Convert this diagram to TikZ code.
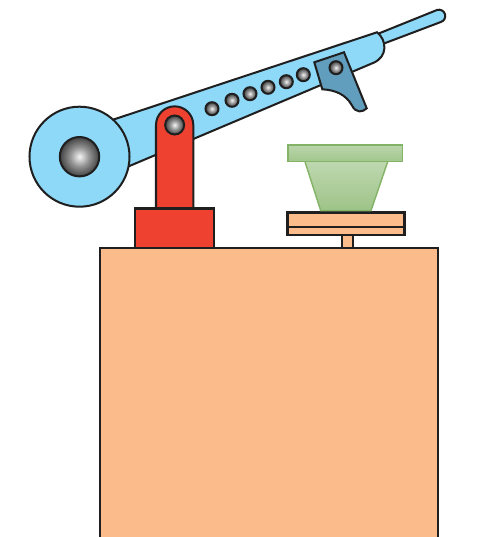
\documentclass[tikz,border=0pt]{standalone}
\usepackage{xcolor}
\usetikzlibrary{math}
\definecolor{armblue}{HTML}{8ED8F8}
\definecolor{pawlblue}{HTML}{619DBC}
\definecolor{postred}{HTML}{EF4130}
\definecolor{boxorange}{HTML}{FBBB8A}
\definecolor{potedge}{HTML}{82B366}
\pgfdeclareradialshading{pinshade}{\pgfpoint{0bp}{0bp}}{color(0bp)=(white!92!gray); color(12bp)=(black!42); color(25bp)=(black!74); color(50bp)=(black!74)}
\tikzset{
part/.style={draw=black!88, line width=1.15pt, line join=miter},
pin/.style={part, shading=pinshade},
pot/.style={draw=potedge, line width=0.8pt},
}

\begin{document}
\begin{tikzpicture}[x=0.02cm,y=-0.02cm]
\tikzmath{
\rpin=6.5;
\tabletop=248;
}
\clip (0,0) rectangle (491,537);

% handle and arm
\draw[part,fill=armblue] (375,35) -- (437,10) arc[start angle=-108,end angle=72,radius=6.3] -- (380,45) -- cycle;
\draw[part,fill=armblue] (100,124) -- (377,32.3) .. controls (387,40) and (388,57) .. (373,63) -- (120,170) -- cycle;

% wheel
\draw[part,fill=armblue] (79.5,156.7) circle[radius=50];
\draw[pin] (79.5,156.7) circle[radius=19.7];

% row of holes
\foreach \xp/\yp in {212/108.7,232/100.3,250/93.7,268/87.3,286.3/81.7,303.3/74.7}{
\draw[pin] (\xp,\yp) circle[radius=\rpin];
}

% pawl
\draw[part,fill=pawlblue] (314.3,62.3) -- (344,52.3) -- (366.7,108.3)
.. controls (363,112) and (356,114) .. (351.7,105)
.. controls (346,95) and (336,90) .. (322.3,89.3) -- cycle;
\draw[pin] (336,67.7) circle[radius=\rpin];

% post
\draw[part,fill=postred] (156,208.3) -- (156,125) arc[start angle=180,end angle=360,radius=18.65] -- (193.3,208.3);
\draw[pin] (174.65,125) circle[radius=9.5];
\draw[part,fill=postred] (134.6,208.5) rectangle (214.3,\tabletop);

% table
\draw[part,fill=boxorange] (99.6,\tabletop) rectangle (438,560);

% plate
\draw[part,fill=boxorange] (342,235) rectangle (352.7,\tabletop);
\draw[part,fill=boxorange] (287.5,212.5) rectangle (404.5,235);
\draw[part] (287.5,227.3) -- (404.5,227.3);
\draw[part,line width=0.5pt] (336,210.7) -- (336,212.3) (368.7,210.7) -- (368.7,212.3);

% pot
\shade[top color=potedge!52!white,bottom color=potedge!78!white] (305,161.7) -- (387.7,161.7) -- (371,210.7) -- (320.7,210.7) -- cycle;
\draw[pot] (305,161.7) -- (320.7,210.7) -- (371,210.7) -- (387.7,161.7);
\draw[pot,top color=potedge!55!white,bottom color=potedge!75!white] (288,145) rectangle (402.4,161.7);

\end{tikzpicture}
\end{document}
